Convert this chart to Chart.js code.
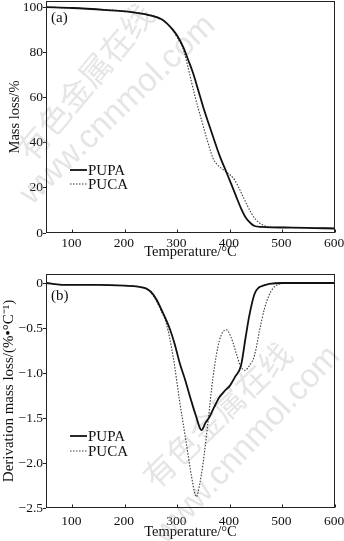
<!DOCTYPE html>
<html lang="en">
<head>
<meta charset="UTF-8" />
<title>TG / DTG curves</title>
<script src="https://cdn.jsdelivr.net/npm/chart.js@4.4.1/dist/chart.umd.min.js"></script>
<style>
  body { margin: 0; background: #fff; }
  canvas { position: absolute; left: 0; }
</style>
</head>
<body>
<canvas id="tg" width="344" height="270" style="top:0"></canvas>
<canvas id="dtg" width="344" height="271" style="top:270px"></canvas>
<script>
// (a) TG: mass loss (%) vs temperature (°C)
const pupaTgTemp = [50, 100, 165, 200, 228, 245, 260, 270, 280, 292, 300, 311, 320, 330, 340, 349, 358, 368, 380, 393, 402, 412, 422, 431, 440, 447, 460, 480, 520, 560, 600];
const pupaTg     = [100, 99.6, 98.7, 98.1, 97.2, 96.5, 95.6, 94.6, 92.8, 89.8, 87.2, 82.4, 77, 70.7, 63, 55.9, 49.5, 42.6, 34.5, 27.1, 22, 16.1, 10.5, 6.5, 4.2, 3.1, 2.7, 2.5, 2.4, 2.2, 2.0];
const pucaTgTemp = [50, 100, 165, 200, 228, 245, 260, 270, 280, 292, 300, 311, 323, 333, 346, 355, 368, 375, 384, 393, 409, 416, 425, 433, 441, 449, 457, 465, 472, 500, 550, 600];
const pucaTg     = [100, 99.6, 98.8, 98.2, 97.4, 96.7, 95.8, 94.7, 92.8, 89.5, 86.5, 81.5, 70.7, 61, 50, 42.6, 33, 30.5, 28.6, 27.1, 23.5, 20.5, 16.1, 12.2, 8.7, 6, 4.3, 3.3, 2.8, 2.5, 2.3, 2.1];

// (b) DTG: derivation mass loss (%/°C) vs temperature (°C)
const pupaDtgTemp = [50, 80, 100, 150, 200, 225, 240, 250, 260, 270, 285, 295, 305, 315, 325, 335, 346, 353, 361, 370, 380, 390, 400, 410, 421, 430, 437, 447, 455, 463, 475, 500, 550, 600];
const pupaDtg     = [0, -0.02, -0.02, -0.02, -0.03, -0.04, -0.06, -0.1, -0.18, -0.3, -0.5, -0.68, -0.9, -1.08, -1.28, -1.47, -1.635, -1.56, -1.49, -1.38, -1.27, -1.2, -1.14, -1.04, -0.92, -0.6, -0.36, -0.12, -0.05, -0.03, -0.01, 0, 0, 0];
const pucaDtgTemp = [50, 80, 100, 150, 200, 225, 240, 250, 260, 270, 279, 292, 304, 317, 327, 336, 342, 349, 358, 368, 380, 393, 402, 412, 420, 428, 437, 447, 456, 466, 475, 482, 494, 510, 600];
const pucaDtg     = [0, -0.02, -0.02, -0.02, -0.03, -0.04, -0.06, -0.11, -0.2, -0.32, -0.45, -0.82, -1.3, -1.78, -2.15, -2.375, -2.25, -2.0, -1.56, -1.04, -0.64, -0.52, -0.6, -0.78, -0.92, -0.97, -0.92, -0.8, -0.54, -0.28, -0.13, -0.06, -0.01, 0, 0];

const tempTicks = [100, 200, 300, 400, 500, 600];
const tgTicks = [0, 20, 40, 60, 80, 100];
const dtgTicks = [0, -0.5, -1.0, -1.5, -2.0, -2.5];

const SERIF = '"Liberation Serif", "Times New Roman", serif';

function pts(xs, ys) {
  return xs.map((x, i) => ({ x: x, y: ys[i] }));
}

function series(label, xs, ys, solid) {
  return {
    label: label,
    data: pts(xs, ys),
    borderColor: solid ? '#111' : '#3a3a3a',
    borderWidth: solid ? 1.8 : 1.1,
    borderDash: solid ? [] : [1.5, 1.5],
    pointRadius: 0,
    cubicInterpolationMode: 'monotone',
    fill: false
  };
}

// frame, inner x ticks, panel tag, legend and site watermark
const framePlugin = {
  id: 'frame',
  beforeDatasetsDraw(chart, args, opts) {
    const ctx = chart.ctx;
    ctx.save();
    ctx.fillStyle = 'rgba(160,160,160,0.28)';
    ctx.textAlign = 'center';
    ctx.textBaseline = 'middle';
    opts.marks.forEach(m => {
      ctx.save();
      ctx.translate(m.x, m.y);
      ctx.rotate(m.angle * Math.PI / 180);
      ctx.font = m.font;
      ctx.fillText(m.text, 0, 0);
      ctx.restore();
    });
    ctx.restore();
  },
  afterDraw(chart, args, opts) {
    const { ctx, chartArea: a } = chart;
    const x = chart.scales.x;
    const l = Math.round(a.left) + 0.5, r = Math.round(a.right) - 0.5;
    const t = Math.round(a.top) + 0.5, b = Math.round(a.bottom) - 0.5;
    ctx.save();
    ctx.strokeStyle = '#222';
    ctx.lineWidth = 1;
    ctx.strokeRect(l, t, r - l, b - t);
    tempTicks.forEach(v => {
      const px = Math.round(x.getPixelForValue(v)) + 0.5;
      ctx.beginPath();
      ctx.moveTo(px, b);
      ctx.lineTo(px, b - 3);
      ctx.stroke();
    });

    ctx.fillStyle = '#111';
    ctx.font = '15px ' + SERIF;
    ctx.textBaseline = 'middle';
    ctx.fillText(opts.panel, 51, opts.panelY);

    chart.data.datasets.forEach((ds, i) => {
      const y = opts.legendY[i];
      ctx.beginPath();
      ctx.strokeStyle = ds.borderColor;
      ctx.lineWidth = ds.borderWidth;
      ctx.setLineDash(ds.borderDash);
      ctx.moveTo(70, y);
      ctx.lineTo(87, y);
      ctx.stroke();
      ctx.setLineDash([]);
      ctx.fillText(ds.label, 88, y + 1);
    });
    ctx.restore();
  }
};

function makeChart(id, datasets, cfg) {
  return new Chart(document.getElementById(id), {
    type: 'line',
    data: { datasets: datasets },
    plugins: [framePlugin],
    options: {
      responsive: false,
      animation: false,
      devicePixelRatio: 1,
      layout: { padding: { top: cfg.padTop, right: 9, left: 0, bottom: 0 } },
      plugins: {
        legend: { display: false },
        tooltip: { enabled: false },
        frame: cfg.frame
      },
      scales: {
        x: {
          type: 'linear',
          min: 50,
          max: 600,
          afterBuildTicks: s => { s.ticks = tempTicks.map(v => ({ value: v })); },
          afterFit: s => { s.height = cfg.xHeight; s.paddingLeft = 0; s.paddingRight = 0; },
          grid: { display: false, drawTicks: false },
          border: { display: false },
          ticks: { padding: cfg.xTickPad, labelOffset: -1, color: '#111', font: { family: SERIF, size: 13.5 }, maxRotation: 0 },
          title: {
            display: true,
            text: 'Temperature/°C',
            color: '#111',
            font: { family: SERIF, size: 14.5 },
            padding: { top: 0, bottom: cfg.xTitlePad }
          }
        },
        y: {
          min: cfg.yMin,
          max: cfg.yMax,
          afterBuildTicks: s => { s.ticks = cfg.yTicks.map(v => ({ value: v })); },
          afterFit: s => { s.width = 46; s.paddingTop = 0; s.paddingBottom = 0; },
          grid: { drawOnChartArea: false, tickLength: 3, color: '#222' },
          border: { display: false },
          ticks: { padding: 0, color: '#111', font: { family: SERIF, size: 13.5 }, callback: cfg.yFormat },
          title: {
            display: true,
            text: cfg.yTitle,
            color: '#111',
            font: { family: SERIF, size: cfg.yTitleSize },
            padding: { top: cfg.yTitlePad, bottom: 0 }
          }
        }
      }
    }
  });
}

makeChart('tg', [
  series('PUPA', pupaTgTemp, pupaTg, true),
  series('PUCA', pucaTgTemp, pucaTg, false)
], {
  padTop: 1, xHeight: 37, xTickPad: 2, xTitlePad: 9,
  yMin: 0, yMax: 102.7, yTicks: tgTicks, yTitle: 'Mass loss/%', yTitlePad: 6, yTitleSize: 14.5,
  yFormat: v => String(v),
  frame: {
    panel: '(a)', panelY: 18, legendY: [170, 184],
    marks: [
      { text: '有色金属在线', x: 85, y: 82, angle: -50, font: '32px "Noto Sans CJK SC"' },
      { text: 'www.cnnmol.com', x: 118, y: 110, angle: -44, font: '33px "Liberation Sans"' }
    ]
  }
});

makeChart('dtg', [
  series('PUPA', pupaDtgTemp, pupaDtg, true),
  series('PUCA', pucaDtgTemp, pucaDtg, false)
], {
  padTop: 4, xHeight: 33, xTickPad: 5, xTitlePad: 0,
  yMin: -2.5, yMax: 0.1, yTicks: dtgTicks, yTitle: 'Derivation mass loss/(%•°C⁻¹)', yTitlePad: 0, yTitleSize: 15,
  yFormat: v => v === 0 ? '0' : '−' + Math.abs(v).toFixed(1),
  frame: {
    panel: '(b)', panelY: 26, legendY: [166, 181],
    marks: [
      { text: '有色金属在线', x: 217, y: 145, angle: -44, font: '32px "Noto Sans CJK SC"' },
      { text: 'www.cnnmol.com', x: 247, y: 175, angle: -47, font: '33px "Liberation Sans"' }
    ]
  }
});
</script>
</body>
</html>
